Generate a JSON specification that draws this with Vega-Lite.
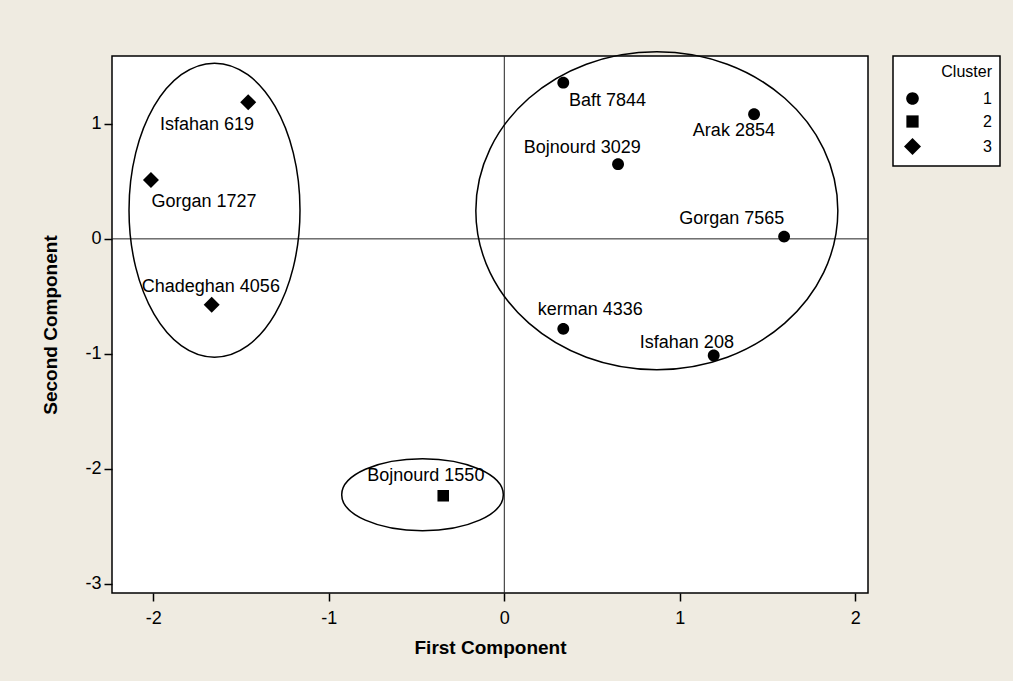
{
  "$schema": "https://vega.github.io/schema/vega-lite/v6.json",
  "width": 756,
  "height": 537,
  "autosize": {"type": "none"},
  "padding": {"left": 112, "top": 56, "right": 145, "bottom": 88},
  "background": "#EFEBE1",
  "config": {
    "view": {"stroke": "#000000", "strokeWidth": 1.5, "fill": "white"},
    "font": "Liberation Sans, Arial, sans-serif",
    "axis": {
      "domain": false, "grid": false,
      "tickColor": "#000000", "tickWidth": 1.5, "tickSize": 8,
      "labelColor": "#000000", "labelFontSize": 18, "labelFont": "Liberation Sans, Arial, sans-serif",
      "titleColor": "#000000", "titleFontSize": 19, "titleFontWeight": "bold", "titleFont": "Liberation Sans, Arial, sans-serif"
    },
    "legend": {
      "strokeColor": "#000000", "strokeWidth": 1.5, "fillColor": "white",
      "padding": 8, "offset": 25,
      "titleFontSize": 16, "titleFontWeight": "normal", "titleColor": "#000000", "titleAnchor": "end", "titlePadding": 9,
      "labelFontSize": 16, "labelColor": "#000000", "labelOffset": 61, "rowPadding": 4, "symbolOffset": 2,
      "titleFont": "Liberation Sans, Arial, sans-serif", "labelFont": "Liberation Sans, Arial, sans-serif"
    }
  },
  "datasets": {
    "points": [
      {"name": "Isfahan 619", "Cluster": 3, "pc1": -1.459, "pc2": 1.189, "lx": -1.694, "ly": 0.991},
      {"name": "Gorgan 1727", "Cluster": 3, "pc1": -2.013, "pc2": 0.513, "lx": -1.711, "ly": 0.324},
      {"name": "Chadeghan 4056", "Cluster": 3, "pc1": -1.667, "pc2": -0.574, "lx": -1.672, "ly": -0.415},
      {"name": "Bojnourd 1550", "Cluster": 2, "pc1": -0.348, "pc2": -2.235, "lx": -0.447, "ly": -2.067},
      {"name": "Baft 7844", "Cluster": 1, "pc1": 0.336, "pc2": 1.359, "lx": 0.588, "ly": 1.2},
      {"name": "Arak 2854", "Cluster": 1, "pc1": 1.423, "pc2": 1.084, "lx": 1.308, "ly": 0.939},
      {"name": "Bojnourd 3029", "Cluster": 1, "pc1": 0.648, "pc2": 0.65, "lx": 0.444, "ly": 0.794},
      {"name": "Gorgan 7565", "Cluster": 1, "pc1": 1.594, "pc2": 0.02, "lx": 1.296, "ly": 0.171},
      {"name": "kerman 4336", "Cluster": 1, "pc1": 0.336, "pc2": -0.783, "lx": 0.49, "ly": -0.617},
      {"name": "Isfahan 208", "Cluster": 1, "pc1": 1.193, "pc2": -1.015, "lx": 1.04, "ly": -0.907}
    ],
    "ellipses": [
      {"group": 3, "cx": -1.651, "cy": 0.25},
      {"group": 1, "cx": 0.869, "cy": 0.245},
      {"group": 2, "cx": -0.466, "cy": -2.226}
    ],
    "zero": [{"v": 0}]
  },
  "layer": [
    {
      "data": {"name": "zero"},
      "mark": {"type": "rule", "color": "#222222", "strokeWidth": 1},
      "encoding": {"x": {"field": "v", "type": "quantitative"}}
    },
    {
      "data": {"name": "zero"},
      "mark": {"type": "rule", "color": "#222222", "strokeWidth": 1},
      "encoding": {"y": {"field": "v", "type": "quantitative"}}
    },
    {
      "data": {"name": "ellipses"},
      "transform": [{"filter": "datum.group == 3"}],
      "mark": {"type": "point", "filled": false, "stroke": "#000000", "strokeWidth": 1.5, "opacity": 1,
               "shape": "M 0 -1 A 0.5816 1 0 1 1 0 1 A 0.5816 1 0 1 1 0 -1 Z", "size": 86436},
      "encoding": {
        "x": {"field": "cx", "type": "quantitative"},
        "y": {"field": "cy", "type": "quantitative"}
      }
    },
    {
      "data": {"name": "ellipses"},
      "transform": [{"filter": "datum.group == 1"}],
      "mark": {"type": "point", "filled": false, "stroke": "#000000", "strokeWidth": 1.5, "opacity": 1,
               "shape": "M -1 0 A 1 0.8785 0 1 1 1 0 A 1 0.8785 0 1 1 -1 0 Z", "size": 131044},
      "encoding": {
        "x": {"field": "cx", "type": "quantitative"},
        "y": {"field": "cy", "type": "quantitative"}
      }
    },
    {
      "data": {"name": "ellipses"},
      "transform": [{"filter": "datum.group == 2"}],
      "mark": {"type": "point", "filled": false, "stroke": "#000000", "strokeWidth": 1.5, "opacity": 1,
               "shape": "M -1 0 A 1 0.4455 0 1 1 1 0 A 1 0.4455 0 1 1 -1 0 Z", "size": 26115},
      "encoding": {
        "x": {"field": "cx", "type": "quantitative"},
        "y": {"field": "cy", "type": "quantitative"}
      }
    },
    {
      "data": {"name": "points"},
      "mark": {"type": "point", "filled": true, "color": "#000000", "opacity": 1, "size": 256, "strokeWidth": 0},
      "encoding": {
        "x": {"field": "pc1", "type": "quantitative", "title": "First Component",
              "scale": {"domain": [-2.235, 2.072], "nice": false, "zero": false},
              "axis": {"values": [-2, -1, 0, 1, 2], "labelPadding": 8, "titlePadding": 11, "labelExpr": "'' + datum.value"}},
        "y": {"field": "pc2", "type": "quantitative", "title": "Second Component",
              "scale": {"domain": [-3.081, 1.591], "nice": false, "zero": false},
              "axis": {"values": [-3, -2, -1, 0, 1], "labelPadding": 3, "titlePadding": 24, "labelExpr": "'' + datum.value"}},
        "shape": {"field": "Cluster", "type": "ordinal", "title": "Cluster",
                  "scale": {"domain": [1, 2, 3], "range": [
                    "M -0.74 0 A 0.74 0.74 0 1 1 0.74 0 A 0.74 0.74 0 1 1 -0.74 0 Z",
                    "M -0.72 -0.72 L 0.72 -0.72 L 0.72 0.72 L -0.72 0.72 Z",
                    "M -1 0 L 0 -1 L 1 0 L 0 1 Z"]},
                  "legend": {"symbolSize": 289}}
      }
    },
    {
      "data": {"name": "points"},
      "mark": {"type": "text", "fontSize": 18, "color": "#000000", "align": "center", "baseline": "middle", "font": "Liberation Sans, Arial, sans-serif"},
      "encoding": {
        "x": {"field": "lx", "type": "quantitative"},
        "y": {"field": "ly", "type": "quantitative"},
        "text": {"field": "name", "type": "nominal"}
      }
    }
  ]
}
